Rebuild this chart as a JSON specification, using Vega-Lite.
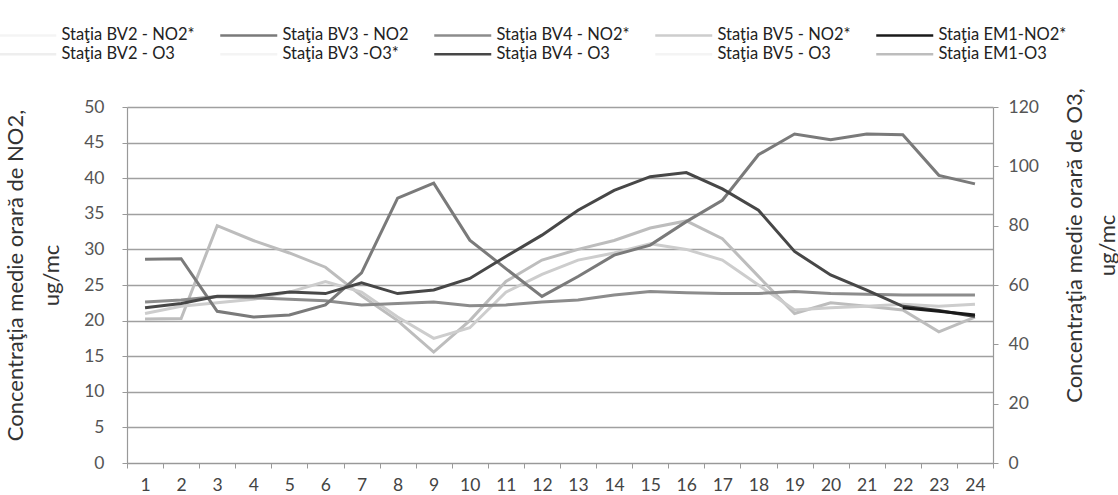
{
  "$schema": "https://vega.github.io/schema/vega-lite/v6.json",
  "width": 866,
  "height": 356,
  "autosize": {"type": "none"},
  "padding": {"left": 127, "top": 107, "right": 125, "bottom": 32},
  "background": "white",
  "config": {
    "font": "Lato",
    "view": {"stroke": null},
    "axis": {"labelFont": "Lato", "titleFont": "Lato"}
  },
  "datasets": {
    "d": [
      {"hour": 1, "series": "Staţia BV5 - NO2*", "v": 21.0},
      {"hour": 2, "series": "Staţia BV5 - NO2*", "v": 22.0},
      {"hour": 3, "series": "Staţia BV5 - NO2*", "v": 22.5},
      {"hour": 4, "series": "Staţia BV5 - NO2*", "v": 23.0},
      {"hour": 5, "series": "Staţia BV5 - NO2*", "v": 24.0},
      {"hour": 6, "series": "Staţia BV5 - NO2*", "v": 25.5},
      {"hour": 7, "series": "Staţia BV5 - NO2*", "v": 24.0},
      {"hour": 8, "series": "Staţia BV5 - NO2*", "v": 20.5},
      {"hour": 9, "series": "Staţia BV5 - NO2*", "v": 17.5},
      {"hour": 10, "series": "Staţia BV5 - NO2*", "v": 19.0},
      {"hour": 11, "series": "Staţia BV5 - NO2*", "v": 24.0},
      {"hour": 12, "series": "Staţia BV5 - NO2*", "v": 26.5},
      {"hour": 13, "series": "Staţia BV5 - NO2*", "v": 28.5},
      {"hour": 14, "series": "Staţia BV5 - NO2*", "v": 29.5},
      {"hour": 15, "series": "Staţia BV5 - NO2*", "v": 30.8},
      {"hour": 16, "series": "Staţia BV5 - NO2*", "v": 30.0},
      {"hour": 17, "series": "Staţia BV5 - NO2*", "v": 28.5},
      {"hour": 18, "series": "Staţia BV5 - NO2*", "v": 25.0},
      {"hour": 19, "series": "Staţia BV5 - NO2*", "v": 21.5},
      {"hour": 20, "series": "Staţia BV5 - NO2*", "v": 21.8},
      {"hour": 21, "series": "Staţia BV5 - NO2*", "v": 22.0},
      {"hour": 22, "series": "Staţia BV5 - NO2*", "v": 22.3},
      {"hour": 23, "series": "Staţia BV5 - NO2*", "v": 22.0},
      {"hour": 24, "series": "Staţia BV5 - NO2*", "v": 22.3},
      {"hour": 1, "series": "Staţia BV4 - NO2*", "v": 22.6},
      {"hour": 2, "series": "Staţia BV4 - NO2*", "v": 22.9},
      {"hour": 3, "series": "Staţia BV4 - NO2*", "v": 23.4},
      {"hour": 4, "series": "Staţia BV4 - NO2*", "v": 23.2},
      {"hour": 5, "series": "Staţia BV4 - NO2*", "v": 23.0},
      {"hour": 6, "series": "Staţia BV4 - NO2*", "v": 22.8},
      {"hour": 7, "series": "Staţia BV4 - NO2*", "v": 22.2},
      {"hour": 8, "series": "Staţia BV4 - NO2*", "v": 22.4},
      {"hour": 9, "series": "Staţia BV4 - NO2*", "v": 22.6},
      {"hour": 10, "series": "Staţia BV4 - NO2*", "v": 22.1},
      {"hour": 11, "series": "Staţia BV4 - NO2*", "v": 22.2},
      {"hour": 12, "series": "Staţia BV4 - NO2*", "v": 22.6},
      {"hour": 13, "series": "Staţia BV4 - NO2*", "v": 22.9},
      {"hour": 14, "series": "Staţia BV4 - NO2*", "v": 23.6},
      {"hour": 15, "series": "Staţia BV4 - NO2*", "v": 24.1},
      {"hour": 16, "series": "Staţia BV4 - NO2*", "v": 23.9},
      {"hour": 17, "series": "Staţia BV4 - NO2*", "v": 23.8},
      {"hour": 18, "series": "Staţia BV4 - NO2*", "v": 23.8},
      {"hour": 19, "series": "Staţia BV4 - NO2*", "v": 24.1},
      {"hour": 20, "series": "Staţia BV4 - NO2*", "v": 23.8},
      {"hour": 21, "series": "Staţia BV4 - NO2*", "v": 23.7},
      {"hour": 22, "series": "Staţia BV4 - NO2*", "v": 23.6},
      {"hour": 23, "series": "Staţia BV4 - NO2*", "v": 23.6},
      {"hour": 24, "series": "Staţia BV4 - NO2*", "v": 23.6},
      {"hour": 1, "series": "Staţia BV3 - NO2", "v": 28.6},
      {"hour": 2, "series": "Staţia BV3 - NO2", "v": 28.7},
      {"hour": 3, "series": "Staţia BV3 - NO2", "v": 21.3},
      {"hour": 4, "series": "Staţia BV3 - NO2", "v": 20.5},
      {"hour": 5, "series": "Staţia BV3 - NO2", "v": 20.8},
      {"hour": 6, "series": "Staţia BV3 - NO2", "v": 22.2},
      {"hour": 7, "series": "Staţia BV3 - NO2", "v": 26.7},
      {"hour": 8, "series": "Staţia BV3 - NO2", "v": 37.2},
      {"hour": 9, "series": "Staţia BV3 - NO2", "v": 39.3},
      {"hour": 10, "series": "Staţia BV3 - NO2", "v": 31.3},
      {"hour": 11, "series": "Staţia BV3 - NO2", "v": 27.3},
      {"hour": 12, "series": "Staţia BV3 - NO2", "v": 23.4},
      {"hour": 13, "series": "Staţia BV3 - NO2", "v": 26.2},
      {"hour": 14, "series": "Staţia BV3 - NO2", "v": 29.2},
      {"hour": 15, "series": "Staţia BV3 - NO2", "v": 30.6},
      {"hour": 16, "series": "Staţia BV3 - NO2", "v": 33.9},
      {"hour": 17, "series": "Staţia BV3 - NO2", "v": 36.9},
      {"hour": 18, "series": "Staţia BV3 - NO2", "v": 43.3},
      {"hour": 19, "series": "Staţia BV3 - NO2", "v": 46.2},
      {"hour": 20, "series": "Staţia BV3 - NO2", "v": 45.4},
      {"hour": 21, "series": "Staţia BV3 - NO2", "v": 46.2},
      {"hour": 22, "series": "Staţia BV3 - NO2", "v": 46.1},
      {"hour": 23, "series": "Staţia BV3 - NO2", "v": 40.4},
      {"hour": 24, "series": "Staţia BV3 - NO2", "v": 39.2},
      {"hour": 22, "series": "Staţia EM1-NO2*", "v": 21.8},
      {"hour": 23, "series": "Staţia EM1-NO2*", "v": 21.3},
      {"hour": 24, "series": "Staţia EM1-NO2*", "v": 20.8},
      {"hour": 1, "series": "Staţia EM1-O3", "v": 48.5},
      {"hour": 2, "series": "Staţia EM1-O3", "v": 48.7},
      {"hour": 3, "series": "Staţia EM1-O3", "v": 80.0},
      {"hour": 4, "series": "Staţia EM1-O3", "v": 75.0},
      {"hour": 5, "series": "Staţia EM1-O3", "v": 70.8},
      {"hour": 6, "series": "Staţia EM1-O3", "v": 66.0},
      {"hour": 7, "series": "Staţia EM1-O3", "v": 56.4},
      {"hour": 8, "series": "Staţia EM1-O3", "v": 48.0},
      {"hour": 9, "series": "Staţia EM1-O3", "v": 37.4},
      {"hour": 10, "series": "Staţia EM1-O3", "v": 48.0},
      {"hour": 11, "series": "Staţia EM1-O3", "v": 61.2},
      {"hour": 12, "series": "Staţia EM1-O3", "v": 68.4},
      {"hour": 13, "series": "Staţia EM1-O3", "v": 72.0},
      {"hour": 14, "series": "Staţia EM1-O3", "v": 75.0},
      {"hour": 15, "series": "Staţia EM1-O3", "v": 79.2},
      {"hour": 16, "series": "Staţia EM1-O3", "v": 81.6},
      {"hour": 17, "series": "Staţia EM1-O3", "v": 75.6},
      {"hour": 18, "series": "Staţia EM1-O3", "v": 62.9},
      {"hour": 19, "series": "Staţia EM1-O3", "v": 50.4},
      {"hour": 20, "series": "Staţia EM1-O3", "v": 54.0},
      {"hour": 21, "series": "Staţia EM1-O3", "v": 52.8},
      {"hour": 22, "series": "Staţia EM1-O3", "v": 51.6},
      {"hour": 23, "series": "Staţia EM1-O3", "v": 44.2},
      {"hour": 24, "series": "Staţia EM1-O3", "v": 49.2},
      {"hour": 1, "series": "Staţia BV4 - O3", "v": 52.3},
      {"hour": 2, "series": "Staţia BV4 - O3", "v": 53.8},
      {"hour": 3, "series": "Staţia BV4 - O3", "v": 56.2},
      {"hour": 4, "series": "Staţia BV4 - O3", "v": 56.2},
      {"hour": 5, "series": "Staţia BV4 - O3", "v": 57.6},
      {"hour": 6, "series": "Staţia BV4 - O3", "v": 57.1},
      {"hour": 7, "series": "Staţia BV4 - O3", "v": 60.7},
      {"hour": 8, "series": "Staţia BV4 - O3", "v": 57.1},
      {"hour": 9, "series": "Staţia BV4 - O3", "v": 58.3},
      {"hour": 10, "series": "Staţia BV4 - O3", "v": 62.2},
      {"hour": 11, "series": "Staţia BV4 - O3", "v": 69.6},
      {"hour": 12, "series": "Staţia BV4 - O3", "v": 76.8},
      {"hour": 13, "series": "Staţia BV4 - O3", "v": 85.2},
      {"hour": 14, "series": "Staţia BV4 - O3", "v": 91.9},
      {"hour": 15, "series": "Staţia BV4 - O3", "v": 96.5},
      {"hour": 16, "series": "Staţia BV4 - O3", "v": 97.9},
      {"hour": 17, "series": "Staţia BV4 - O3", "v": 92.4},
      {"hour": 18, "series": "Staţia BV4 - O3", "v": 85.2},
      {"hour": 19, "series": "Staţia BV4 - O3", "v": 71.3},
      {"hour": 20, "series": "Staţia BV4 - O3", "v": 63.4},
      {"hour": 21, "series": "Staţia BV4 - O3", "v": 58.3},
      {"hour": 22, "series": "Staţia BV4 - O3", "v": 52.8},
      {"hour": 23, "series": "Staţia BV4 - O3", "v": 51.4},
      {"hour": 24, "series": "Staţia BV4 - O3", "v": 49.4}
    ]
  },
  "encoding": {
    "x": {
      "field": "hour",
      "type": "quantitative",
      "scale": {"domain": [0.5, 24.5], "nice": false, "zero": false},
      "axis": {
        "values": [0.5, 1.5, 2.5, 3.5, 4.5, 5.5, 6.5, 7.5, 8.5, 9.5, 10.5, 11.5, 12.5, 13.5, 14.5, 15.5, 16.5, 17.5, 18.5, 19.5, 20.5, 21.5, 22.5, 23.5, 24.5],
        "labelExpr": "datum.value < 24 ? format(datum.value + 0.5, 'd') : ''",
        "labelOffset": 18,
        "labelFontSize": 17.5,
        "labelColor": "#444",
        "labelPadding": 8,
        "tickSize": 5,
        "tickColor": "#999",
        "domainColor": "#999",
        "domainWidth": 1.2,
        "grid": false,
        "title": null,
        "labelFlush": false,
        "labelOverlap": false
      }
    },
    "color": {
      "field": "series",
      "type": "nominal",
      "scale": {
        "domain": ["Staţia BV2 - NO2*", "Staţia BV2 - O3", "Staţia BV3 - NO2", "Staţia BV3 -O3*", "Staţia BV4 - NO2*", "Staţia BV4 - O3", "Staţia BV5 - NO2*", "Staţia BV5 - O3", "Staţia EM1-NO2*", "Staţia EM1-O3"],
        "range": ["#f4f4f4", "#eeeeee", "#7a7a7a", "#f4f4f4", "#8c8c8c", "#474747", "#cdcdcd", "#f4f4f4", "#1a1a1a", "#bdbdbd"]
      },
      "legend": {
        "orient": "none",
        "legendX": -84,
        "legendY": -80,
        "columns": 5,
        "columnPadding": 20,
        "rowPadding": 2,
        "title": null,
        "symbolType": "M-10.4,0H1",
        "symbolSize": 100,
        "symbolStrokeWidth": 2.5,
        "labelFont": "Lato",
        "labelFontSize": 16.5,
        "labelColor": "#222",
        "labelOffset": 2,
        "labelLimit": 300
      }
    }
  },
  "layer": [
    {
      "data": {"name": "d"},
      "transform": [{"filter": "datum.series == 'Staţia EM1-O3'"}],
      "mark": {"type": "line", "strokeWidth": 3},
      "encoding": {
        "y": {"field": "v", "type": "quantitative", "scale": {"domain": [0, 120], "nice": false}, "axis": null}
      }
    },
    {
      "data": {"name": "d"},
      "transform": [{"filter": "indexof(['Staţia BV5 - NO2*','Staţia BV4 - NO2*','Staţia BV3 - NO2'], datum.series) >= 0"}],
      "mark": {"type": "line", "strokeWidth": 3},
      "encoding": {
        "y": {
          "field": "v",
          "type": "quantitative",
          "scale": {"domain": [0, 50], "nice": false},
          "axis": {
            "orient": "left",
            "values": [0, 5, 10, 15, 20, 25, 30, 35, 40, 45, 50],
            "grid": true,
            "gridColor": "#a0a0a0",
            "gridWidth": 1.3,
            "domainColor": "#999",
            "domainWidth": 1.2,
            "tickSize": 5,
            "tickColor": "#999",
            "labelFontSize": 17.5,
            "labelColor": "#555",
            "labelPadding": 18,
            "title": ["Concentraţia medie orară de NO2,", "ug/mc"],
            "titleFontSize": 22,
            "titleFontWeight": "normal",
            "titleColor": "#333",
            "titleLineHeight": 36,
            "titlePadding": 20,
            "titleY": 168
          }
        }
      }
    },
    {
      "data": {"name": "d"},
      "transform": [{"filter": "datum.series == 'Staţia BV4 - O3'"}],
      "mark": {"type": "line", "strokeWidth": 3},
      "encoding": {
        "y": {
          "field": "v",
          "type": "quantitative",
          "scale": {"domain": [0, 120], "nice": false},
          "axis": {
            "orient": "right",
            "values": [0, 20, 40, 60, 80, 100, 120],
            "grid": false,
            "domainColor": "#999",
            "domainWidth": 1.2,
            "tickSize": 5,
            "tickColor": "#999",
            "labelFontSize": 17.5,
            "labelColor": "#555",
            "labelPadding": 10,
            "title": ["Concentraţia medie orară de O3,", "ug/mc"],
            "titleAngle": 270,
            "titleBaseline": "top",
            "titleFontSize": 22,
            "titleFontWeight": "normal",
            "titleColor": "#333",
            "titleLineHeight": 33,
            "titleX": 71,
            "titleY": 138
          }
        }
      }
    },
    {
      "data": {"name": "d"},
      "transform": [{"filter": "datum.series == 'Staţia EM1-NO2*'"}],
      "mark": {"type": "line", "strokeWidth": 3},
      "encoding": {
        "y": {"field": "v", "type": "quantitative", "scale": {"domain": [0, 50], "nice": false}, "axis": null}
      }
    }
  ],
  "resolve": {"scale": {"y": "independent"}}
}
